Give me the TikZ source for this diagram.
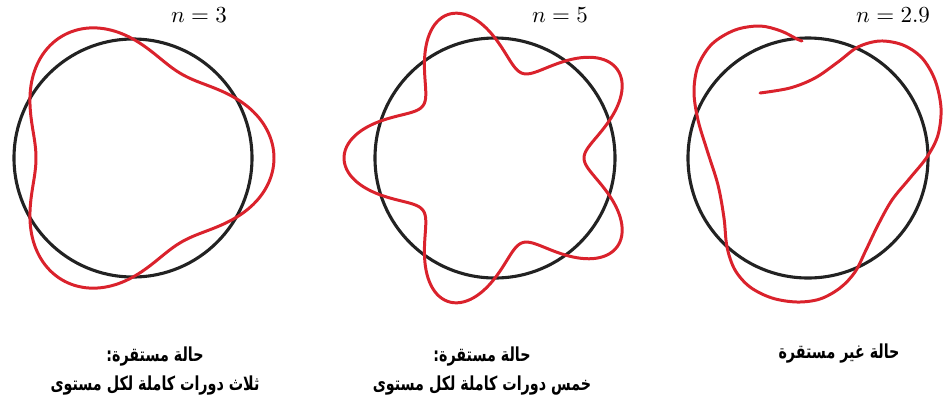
\documentclass[tikz,border=0pt]{standalone}
\usepackage{fontspec}
\usepackage{amsmath}
\newfontfamily\arabicfont[Script=Arabic, FakeStretch=0.74]{DejaVu Sans}
\TeXXeTstate=1
\definecolor{wavered}{RGB}{218,34,44}
\definecolor{orbitgray}{RGB}{34,34,34}

\begin{document}
\begin{tikzpicture}[x=0.435pt, y=-0.435pt,
  orbit/.style={line width=1.35pt, draw=orbitgray},
  wave/.style={line width=1.3pt, draw=wavered, line join=round, line cap=round},
  caption/.style={font=\arabicfont\bfseries\fontsize{8.4}{12.4}\selectfont, align=center, inner sep=0pt}]
  \useasboundingbox (0,0) rectangle (951,399);

  \coordinate (c1) at (133,158);
  \coordinate (c2) at (495,158);
  \coordinate (c3) at (808,158);

  % orbits
  \draw[orbit] (c1) circle[radius=119];
  \draw[orbit] (c2) circle[radius=120];
  \draw[orbit] (c3) circle[radius=120];

  % standing waves
  \draw[wave, shift={(c1)}] plot[domain=0:360, samples=240, smooth]
    ({(119+22*cos(3*\x))*cos(\x)}, {(119+22*cos(3*\x))*sin(\x)}) -- cycle;
  \draw[wave, shift={(c2)}] plot[domain=0:360, samples=300, smooth]
    ({(120-31*cos(5*\x))*cos(\x)}, {(120-31*cos(5*\x))*sin(\x)}) -- cycle;
  \draw[wave] plot[smooth, tension=0.55] coordinates {
    (760,93) (790,88) (815,78) (838,62) (858,47) (880,41) (903,45) (922,58)
    (935,80) (941,108) (938,135) (927,157) (910,178) (892,200) (878,225)
    (866,250) (855,272) (840,288) (820,299) (797,302) (772,298) (750,287)
    (735,270) (727,247) (724,218) (718,185) (707,150) (698,120) (694,92)
    (698,66) (712,44) (735,30) (760,26) (781,31) (797,39) (802,41)};

  \node (n3) at (199,15) {$n=3$};
  \node (n5) at (560,15) {$n=5$};
  \node (n29) at (893,15) {$n=2.9$};

  \node[caption] (cap1) at (155,371)
    {\beginR حالة مستقرة:\endR\\ \beginR ثلاث دورات كاملة لكل مستوى\endR};
  \node[caption] (cap2) at (482,371)
    {\beginR حالة مستقرة:\endR\\ \beginR خمس دورات كاملة لكل مستوى\endR};
  \node[caption] (cap3) at (839,354) {\beginR حالة غير مستقرة\endR};
\end{tikzpicture}
\end{document}
